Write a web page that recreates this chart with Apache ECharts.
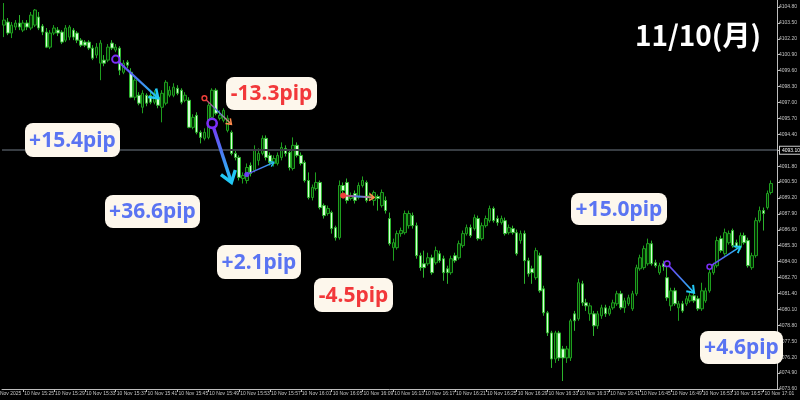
<!DOCTYPE html>
<html><head><meta charset="utf-8">
<script src="https://cdn.jsdelivr.net/npm/echarts@6/dist/echarts.min.js"></script>
<style>html,body{margin:0;padding:0;background:#000}#c{width:800px;height:400px}</style>
</head><body><div id="c"></div>
<script>
const OFFSET = 4073.6;           // lowest y tick
const Y_STEP = 1.3;
const Y_TOP = 4105.37;
const priceLine = 4093.10;
const xTickLabels = ['10 Nov 15:25','10 Nov 15:29','10 Nov 15:33','10 Nov 15:37','10 Nov 15:41','10 Nov 15:45','10 Nov 15:49','10 Nov 15:53','10 Nov 15:57','10 Nov 16:01','10 Nov 16:05','10 Nov 16:09','10 Nov 16:13','10 Nov 16:17','10 Nov 16:21','10 Nov 16:25','10 Nov 16:29','10 Nov 16:33','10 Nov 16:37','10 Nov 16:41','10 Nov 16:45','10 Nov 16:49','10 Nov 16:53','10 Nov 16:57','10 Nov 17:01'];

// 30-second candles from 15:22:30
const categories = [];
for (let i = 0; i < 201; i++) {
  const t = 15*3600 + 22*60 + 30 + 30*i;
  const hh = String(Math.floor(t/3600)).padStart(2,'0');
  const mm = String(Math.floor(t%3600/60)).padStart(2,'0');
  const ss = String(t%60).padStart(2,'0');
  categories.push(hh + ':' + mm + ':' + ss);
}

const opens = [
4103.32,4103.57,4102.67,4103.16,4103.49,4102.91,4103.49,4103.08,4103.32,4103.98,
4103.24,4102.75,4101.52,4102.67,4102.91,4102.75,4102.09,4102.34,4102.91,4102.67,
4102.09,4101.93,4101.93,4101.44,4100.87,4100.21,4100.46,4100.46,4101.85,4101.28,
4101.44,4099.47,4100.29,4099.47,4097.43,4097.59,4096.61,4097.59,4097.59,4097.02,
4097.43,4096.61,4096.94,4097.59,4097.59,4098.16,4098.00,4097.18,4097.18,4094.97,
4095.95,4094.56,4094.07,4094.15,4095.79,4098.00,4095.71,4095.54,4094.72,4094.56,
4092.84,4092.51,4090.79,4090.63,4091.86,4091.45,4092.27,4092.84,4094.07,4092.68,
4092.02,4092.02,4092.51,4093.25,4092.92,4091.61,4093.50,4092.68,4092.10,4090.63,
4089.24,4089.97,4090.47,4088.58,4087.93,4088.01,4086.78,4085.96,4090.22,4090.47,
4089.16,4089.57,4089.24,4090.22,4090.47,4089.24,4089.00,4089.32,4088.58,4089.00,
4087.52,4085.14,4085.14,4086.29,4086.37,4086.94,4087.76,4086.94,4084.49,4083.83,
4083.83,4084.32,4083.91,4084.65,4084.24,4083.42,4083.10,4084.49,4084.32,4085.31,
4086.29,4086.78,4086.70,4087.52,4085.88,4086.94,4087.35,4088.34,4087.52,4087.19,
4087.35,4086.37,4086.70,4086.37,4085.72,4086.29,4084.08,4083.42,4082.69,4084.49,
4081.78,4079.82,4078.18,4076.05,4078.18,4076.87,4076.14,4076.14,4079.74,4079.33,
4082.19,4080.64,4079.74,4079.74,4078.76,4079.58,4080.23,4079.74,4080.23,4080.56,
4081.38,4080.23,4080.56,4080.15,4081.38,4083.42,4083.51,4083.83,4085.47,4083.91,
4083.10,4083.83,4082.69,4080.39,4081.62,4080.23,4080.56,4080.56,4080.80,4081.21,
4080.97,4080.15,4080.80,4081.62,4083.10,4083.67,4085.88,4084.65,4085.55,4086.54,
4085.55,4085.14,4086.13,4085.72,4083.51,4084.49,4087.35,4088.17,4088.42,4089.65];

const closes = [
4103.73,4102.67,4103.32,4103.49,4103.16,4103.49,4103.16,4104.14,4104.55,4103.08,
4102.75,4101.52,4102.67,4103.08,4102.67,4101.93,4103.08,4103.16,4102.34,4102.09,
4101.68,4101.68,4101.44,4100.62,4101.52,4101.85,4100.21,4101.52,4101.44,4101.52,
4099.64,4100.21,4100.05,4097.43,4098.82,4096.94,4097.75,4096.94,4097.02,4097.75,
4096.77,4097.75,4098.65,4098.00,4098.25,4097.75,4097.02,4097.59,4094.97,4095.79,
4094.56,4094.15,4094.56,4096.77,4098.00,4096.12,4095.95,4096.36,4095.71,4092.84,
4092.51,4090.88,4091.04,4091.69,4091.20,4093.09,4092.84,4094.07,4092.51,4092.10,
4092.43,4092.68,4093.33,4092.84,4091.69,4093.50,4092.68,4092.02,4090.63,4089.24,
4090.06,4090.47,4088.42,4087.76,4088.34,4086.70,4085.96,4090.22,4089.81,4089.00,
4089.40,4089.00,4090.22,4090.63,4089.00,4089.40,4089.65,4089.16,4089.65,4088.17,
4085.47,4085.55,4086.29,4086.54,4087.93,4087.93,4086.94,4084.49,4083.51,4083.51,
4084.32,4083.10,4084.90,4084.08,4083.10,4083.10,4084.24,4084.08,4085.47,4086.29,
4086.78,4086.13,4087.60,4085.88,4086.94,4087.52,4088.34,4087.35,4087.19,4087.52,
4086.29,4086.78,4086.37,4084.65,4086.29,4084.08,4083.01,4083.10,4084.90,4081.62,
4079.82,4078.18,4076.05,4078.18,4076.14,4076.14,4076.87,4079.17,4079.17,4082.28,
4080.64,4080.39,4080.39,4078.76,4079.74,4080.23,4079.74,4080.15,4080.64,4081.38,
4080.23,4080.80,4081.05,4081.38,4083.51,4084.32,4085.06,4085.47,4083.83,4083.67,
4083.67,4083.59,4081.05,4081.62,4080.56,4080.56,4079.98,4080.97,4081.21,4080.80,
4080.15,4081.62,4081.62,4083.10,4083.67,4085.72,4084.90,4086.37,4086.29,4085.31,
4085.14,4086.13,4085.55,4083.67,4084.49,4087.35,4088.17,4087.93,4089.57,4090.38];

const lows = [
4102.34,4102.50,4102.26,4102.91,4102.91,4102.75,4102.91,4102.91,4103.16,4102.91,
4102.50,4101.44,4101.36,4102.50,4102.42,4101.77,4101.93,4102.09,4102.09,4101.85,
4101.52,4101.52,4101.28,4100.46,4100.62,4098.82,4099.96,4100.29,4101.28,4101.11,
4099.23,4099.31,4099.80,4097.35,4097.18,4096.77,4096.12,4096.69,4096.85,4096.85,
4096.53,4095.38,4096.77,4097.43,4097.43,4097.59,4096.85,4097.02,4094.89,4094.81,
4094.40,4093.66,4093.90,4093.99,4095.62,4095.95,4095.54,4095.38,4094.56,4092.68,
4092.27,4090.63,4090.38,4090.38,4090.96,4091.29,4091.86,4092.68,4092.27,4091.86,
4091.77,4091.86,4092.27,4092.59,4091.45,4091.45,4092.51,4091.86,4090.47,4089.08,
4089.00,4089.81,4088.26,4087.52,4087.76,4086.29,4085.72,4085.80,4089.57,4088.75,
4089.00,4088.75,4089.08,4090.06,4088.83,4089.00,4088.58,4088.17,4088.42,4087.93,
4085.31,4084.08,4084.98,4086.04,4086.21,4086.70,4086.70,4084.24,4083.26,4082.69,
4083.67,4082.93,4083.75,4083.91,4082.44,4082.19,4082.93,4083.91,4084.16,4085.14,
4086.13,4085.96,4086.54,4085.72,4085.72,4086.78,4087.19,4087.19,4086.94,4087.03,
4086.13,4086.21,4086.21,4084.49,4085.47,4082.19,4082.77,4082.19,4082.52,4081.46,
4079.58,4077.93,4075.32,4075.73,4075.89,4074.25,4075.73,4075.89,4078.35,4079.17,
4080.39,4079.98,4079.17,4077.93,4078.51,4079.33,4079.49,4079.58,4080.07,4080.39,
4080.07,4079.82,4080.39,4079.98,4081.21,4083.26,4083.34,4083.67,4083.67,4083.51,
4082.93,4083.26,4080.80,4079.98,4080.39,4079.17,4079.82,4080.39,4080.64,4080.64,
4079.98,4079.98,4080.64,4081.46,4082.93,4083.51,4084.73,4084.49,4085.39,4085.14,
4084.98,4084.98,4085.39,4083.51,4083.34,4084.32,4087.19,4086.54,4088.26,4089.48];

const highs = [
4105.12,4103.90,4103.57,4103.73,4104.14,4103.73,4103.73,4104.39,4104.63,4104.39,
4103.41,4103.08,4102.91,4103.32,4103.16,4102.91,4103.32,4103.32,4103.08,4102.83,
4102.26,4102.09,4102.09,4101.68,4101.85,4102.09,4100.87,4101.77,4102.09,4101.77,
4101.60,4100.46,4100.46,4099.80,4098.98,4097.84,4098.00,4097.75,4097.84,4098.00,
4097.67,4098.00,4098.82,4098.33,4098.57,4098.41,4098.16,4097.84,4097.43,4096.04,
4096.20,4094.72,4094.89,4097.02,4098.16,4098.16,4096.36,4096.53,4095.95,4094.72,
4093.09,4092.68,4091.29,4092.02,4092.10,4093.50,4093.25,4094.31,4094.31,4092.92,
4092.68,4092.92,4093.74,4093.50,4093.09,4094.15,4093.74,4092.92,4092.27,4091.29,
4090.30,4091.29,4090.63,4088.75,4088.58,4088.17,4086.94,4090.63,4090.47,4090.79,
4089.65,4089.81,4090.47,4090.96,4090.63,4089.65,4089.81,4089.48,4089.89,4089.32,
4088.01,4085.88,4086.54,4086.78,4088.17,4088.17,4088.01,4087.19,4084.73,4084.90,
4084.73,4084.57,4085.23,4084.90,4084.49,4083.67,4084.49,4084.73,4085.72,4086.54,
4087.03,4087.03,4087.85,4087.76,4087.19,4087.76,4088.58,4088.50,4087.76,4087.76,
4087.60,4087.03,4086.94,4086.62,4086.54,4086.54,4084.32,4083.67,4085.14,4084.73,
4082.03,4079.98,4078.35,4078.35,4078.35,4077.12,4077.12,4079.33,4079.98,4082.61,
4082.44,4080.97,4080.64,4079.98,4079.98,4080.48,4080.48,4080.39,4080.89,4081.62,
4081.62,4081.05,4081.30,4081.62,4083.75,4084.57,4085.31,4085.88,4085.72,4084.16,
4083.91,4084.08,4083.59,4081.87,4081.87,4080.80,4080.80,4081.21,4081.46,4081.62,
4081.21,4082.28,4081.87,4083.34,4083.91,4086.04,4086.13,4086.70,4086.54,4086.70,
4085.80,4086.37,4086.37,4085.96,4084.73,4087.60,4088.50,4088.42,4089.81,4090.63];

// trade arrows: candle index & price of start / end, and their labels
const arrowStartIdx   = [29, 52, 54, 63, 88, 172, 183];
const arrowStartPrice = [4100.54, 4097.35, 4095.30, 4091.12, 4089.40, 4083.83, 4083.59];
const arrowEndIdx     = [40, 59, 59, 70, 96, 179, 191];
const arrowEndPrice   = [4097.35, 4095.22, 4090.47, 4092.11, 4089.24, 4081.46, 4085.23];
const pipLabels = ['+15.4pip','-13.3pip','+36.6pip','+2.1pip','-4.5pip','+15.0pip','+4.6pip'];
const title = '11/10(月)';

// ---- styles (not data) ----
const BLUE_T = '#5a74f2', RED_T = '#f2383a';
const arrowStyles = [
  {c0:'#7b2ff7', c1:'#22c8f5', w:2.2, r:3.6, ring:true, rw:2, head:10, hw:2.6, hc:'#22c8f5', rc:'#7b2ff7'},
  {c0:'#ef3f3a', c1:'#ff8a4c', w:1.4, r:2.4, ring:true, rw:1.4, head:6, hw:1.5, hc:'#ff8a4c', rc:'#ef3f3a'},
  {c0:'#7b2ff7', c1:'#22c8f5', w:3.4, r:4.6, ring:true, rw:2.6, head:13, hw:3.4, hc:'#22c8f5', rc:'#7b2ff7'},
  {c0:'#6a3ff2', c1:'#2ab8f5', w:1.4, r:2.2, ring:false, rw:1, head:5, hw:1.4, hc:'#2ab8f5', rc:'#6a3ff2'},
  {c0:'#ef3f3a', c1:'#ff8a4c', w:2.0, r:2.6, ring:false, rw:1, head:6, hw:1.6, hc:'#ff8a4c', rc:'#ef3f3a'},
  {c0:'#7b2ff7', c1:'#22c8f5', w:1.8, r:2.8, ring:true, rw:1.6, head:8, hw:2, hc:'#22c8f5', rc:'#7b2ff7'},
  {c0:'#7b2ff7', c1:'#22c8f5', w:1.6, r:2.5, ring:true, rw:1.5, head:7, hw:1.8, hc:'#22c8f5', rc:'#7b2ff7'}
];
const boxLayout = [
  {x:25, y:123, w:95, h:34, c:BLUE_T},
  {x:226, y:77, w:91, h:33, c:RED_T},
  {x:105, y:195, w:95, h:33, c:BLUE_T},
  {x:217, y:245, w:84, h:34, c:BLUE_T},
  {x:314, y:278, w:79, h:34, c:RED_T},
  {x:571, y:193, w:96, h:32, c:BLUE_T},
  {x:700, y:331, w:83, h:33, c:BLUE_T}
];

const candleData = opens.map((o, i) => [o - OFFSET, closes[i] - OFFSET, lows[i] - OFFSET, highs[i] - OFFSET]);
const arrowData = arrowStartIdx.map((k, i) => [k, arrowStartPrice[i] - OFFSET, arrowEndIdx[i], arrowEndPrice[i] - OFFSET]);

const graphics = [];
boxLayout.forEach((b, i) => {
  graphics.push({type:'rect', z:100, shape:{x:b.x, y:b.y, width:b.w, height:b.h, r:8}, style:{fill:'#fdf7ec'}});
  graphics.push({type:'text', z:101, x:b.x + b.w/2, y:b.y + b.h/2 + 1,
    style:{text:pipLabels[i], fill:b.c, font:'bold 21px "Noto Sans"', align:'center', verticalAlign:'middle', textAlign:'center', textVerticalAlign:'middle'}});
});
graphics.push({type:'text', z:101, x:698, y:35, style:{text:title, fill:'#ffffff', font:'bold 28px "Noto Sans CJK JP"', align:'center', verticalAlign:'middle', textAlign:'center', textVerticalAlign:'middle'}});
graphics.push({type:'text', z:50, x:-7, y:391, style:{text:'10 Nov 2025', fill:'#c4c4c4', font:'5px "Liberation Sans"'}});

const PRICE_LINE_STYLE = {color:'#383d43', width:2, type:'solid', opacity:1};

const chart = echarts.init(document.getElementById('c'), null, {renderer:'canvas'});
chart.setOption({
  backgroundColor:'#000000',
  animation:false,
  grid:{left:2, right:23, top:0, bottom:11, containLabel:false, outerBoundsMode:'none'},
  xAxis:{
    type:'category', data:categories, boundaryGap:true,
    axisLine:{lineStyle:{color:'#bdbdbd', width:1}},
    axisTick:{show:true, alignWithLabel:true, length:3, lineStyle:{color:'#bdbdbd'},
      interval:(idx, val) => val.endsWith(':00') && xTickLabels.indexOf('10 Nov ' + val.slice(0,5)) >= 0},
    axisLabel:{show:true, color:'#c4c4c4', fontSize:5, fontFamily:'Liberation Sans', align:'left', margin:2, padding:[0,0,0,1],
      interval:(idx, val) => val.endsWith(':00') && xTickLabels.indexOf('10 Nov ' + val.slice(0,5)) >= 0,
      formatter:(val) => '10 Nov ' + val.slice(0,5)},
    splitLine:{show:false}
  },
  yAxis:{
    type:'value', position:'right', min:0, max:Y_TOP - OFFSET, interval:Y_STEP, scale:false,
    axisLine:{show:true, lineStyle:{color:'#bdbdbd', width:1}},
    axisTick:{show:true, length:3, lineStyle:{color:'#bdbdbd'}},
    axisLabel:{color:'#c4c4c4', fontSize:5, fontFamily:'Liberation Sans', margin:2, showMaxLabel:false, showMinLabel:true,
      formatter:(v) => (v + OFFSET).toFixed(2)},
    splitLine:{show:false}
  },
  series:[
    {
      type:'candlestick', data:candleData, barWidth:3,
      itemStyle:{color:'#032a03', color0:'#d6ffd6', borderColor:'#1e9e1e', borderColor0:'#2cb42c', borderWidth:1},
      emphasis:{disabled:true},
      markLine:{
        silent:true, symbol:'none', animation:false,
        lineStyle:PRICE_LINE_STYLE,
        emphasis:{disabled:true, lineStyle:PRICE_LINE_STYLE},
        label:{show:true, position:'end', formatter:priceLine.toFixed(2), color:'#ffffff', fontSize:5, fontFamily:'Liberation Sans',
          backgroundColor:'#000', borderColor:'#d0d0d0', borderWidth:1, padding:[1,2,1,2], distance:3},
        data:[{yAxis: priceLine - OFFSET, lineStyle:PRICE_LINE_STYLE}]
      }
    },
    {
      type:'custom', data:arrowData, clip:false, z:10, silent:true,
      encode:{x:[0,2], y:[1,3]},
      renderItem:(params, api) => {
        const i = params.dataIndex;
        const s = arrowStyles[i];
        const p1 = api.coord([api.value(0), api.value(1)]);
        const p2 = api.coord([api.value(2), api.value(3)]);
        const ang = Math.atan2(p2[1]-p1[1], p2[0]-p1[0]);
        const a = 0.62;
        const h1 = [p2[0] - s.head*Math.cos(ang - a), p2[1] - s.head*Math.sin(ang - a)];
        const h2 = [p2[0] - s.head*Math.cos(ang + a), p2[1] - s.head*Math.sin(ang + a)];
        return {type:'group', children:[
          {type:'line', shape:{x1:p1[0], y1:p1[1], x2:p2[0], y2:p2[1]},
            style:{stroke:new echarts.graphic.LinearGradient(p1[0], p1[1], p2[0], p2[1], [{offset:0, color:s.c0},{offset:0.5, color:'#4a7cf3'},{offset:1, color:s.c1}], true), lineWidth:s.w}},
          {type:'polyline', shape:{points:[h1, p2, h2]}, style:{stroke:s.hc, lineWidth:s.hw, fill:null, lineJoin:'miter', lineCap:'butt'}},
          {type:'circle', shape:{cx:p1[0], cy:p1[1], r:s.r}, style:{fill:s.ring ? '#000' : s.rc, stroke:s.rc, lineWidth:s.rw}}
        ]};
      }
    }
  ],
  graphic:graphics
});
</script></body></html>
